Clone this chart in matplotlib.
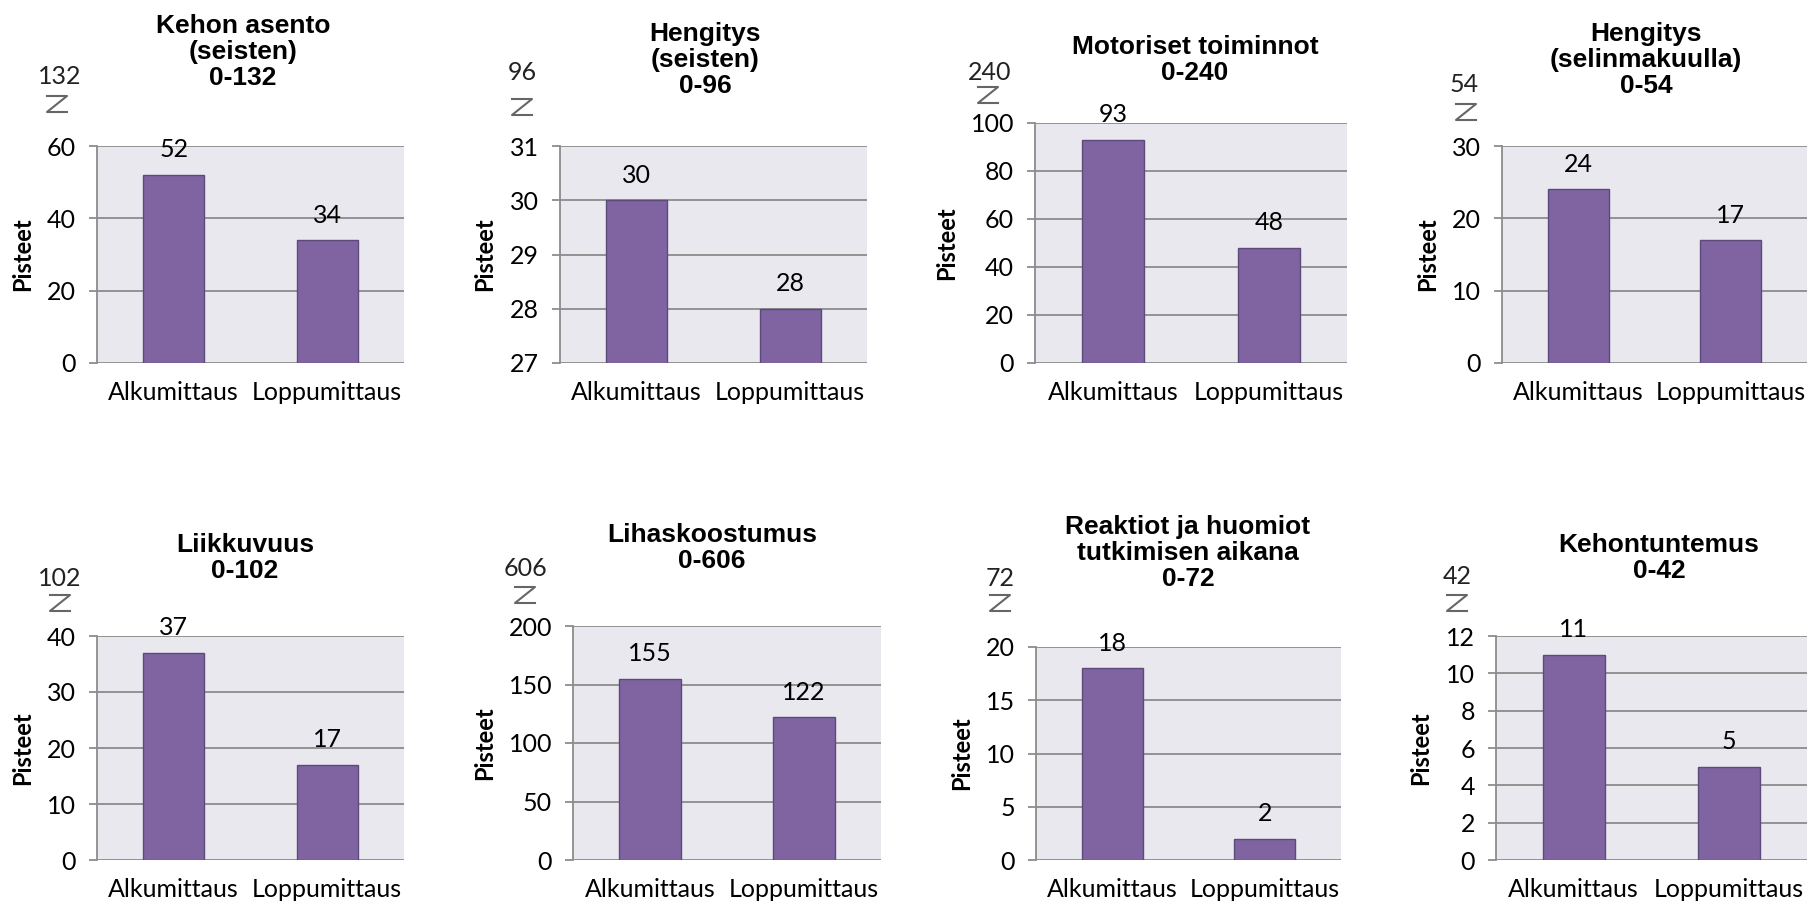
import matplotlib
matplotlib.use("Agg")
import matplotlib.pyplot as plt
from matplotlib.lines import Line2D
import numpy as np

# ---- data ----
categories = ["Alkumittaus", "Loppumittaus"]
titles = [
    "Kehon asento\n(seisten)\n0-132",
    "Hengitys\n(seisten)\n0-96",
    "Motoriset toiminnot\n0-240",
    "Hengitys\n(selinmakuulla)\n0-54",
    "Liikkuvuus\n0-102",
    "Lihaskoostumus\n0-606",
    "Reaktiot ja huomiot\ntutkimisen aikana\n0-72",
    "Kehontuntemus\n0-42",
]
max_scores = ["132", "96", "240", "54", "102", "606", "72", "42"]
alku = [52, 30, 93, 24, 37, 155, 18, 11]
loppu = [34, 28, 48, 17, 17, 122, 2, 5]
y_min = [0, 27, 0, 0, 0, 0, 0, 0]
y_max = [60, 31, 100, 30, 40, 200, 20, 12]
y_step = [20, 1, 20, 10, 10, 50, 5, 2]
ylabel = "Pisteet"

# ---- layout (pixels in 1819x910 canvas) ----
W, H = 1819, 910
axes_px = [  # left, right, top, bottom
    (97, 404, 146, 363),
    (560, 867, 146, 363),
    (1035, 1347, 123, 363),
    (1502, 1807, 146, 363),
    (97, 404, 636, 860),
    (573, 881, 626, 860),
    (1036, 1341, 647, 860),
    (1496, 1807, 636, 860),
]
title_px = [(243, 52), (705, 60), (1195, 60), (1646, 60),
            (245, 558), (712, 548), (1188, 553), (1659, 558)]
ylabel_x = [23, 485, 947, 1428, 23, 485, 962, 1421]
maxnum_px = [(60, 77), (522, 73), (990, 72), (1464, 85),
             (60, 578), (525, 568), (1000, 578), (1457, 577)]
zsym_px = [(57, 104), (522, 107), (988, 95), (1466, 112),
           (60, 603), (525, 595), (1000, 603), (1457, 603)]

bar_color = "#8064A2"
bar_edge = "#5C4A7A"
bg_color = "#EAE8EF"
grid_color = "#8C8C8C"

tick_font = "Lato"
title_font = "Liberation Sans"
FS = 18

fig = plt.figure(figsize=(W / 100, H / 100), dpi=100)
fig.patch.set_facecolor("white")

x = np.arange(len(categories))
for i in range(8):
    l, r, t, b = axes_px[i]
    ax = fig.add_axes([l / W, 1 - b / H, (r - l) / W, (b - t) / H])
    ax.set_facecolor(bg_color)
    vals = [alku[i], loppu[i]]
    ax.bar(x, vals, width=0.4, color=bar_color, edgecolor=bar_edge,
           linewidth=1.0, zorder=3)
    ax.set_xlim(-0.5, 1.5)
    ax.set_ylim(y_min[i], y_max[i])
    ax.set_yticks(np.arange(y_min[i], y_max[i] + y_step[i] * 0.5, y_step[i]))
    ax.yaxis.grid(True, color=grid_color, linewidth=1.3, zorder=1)
    ax.set_axisbelow(True)
    for s in ["top", "right", "bottom"]:
        ax.spines[s].set_visible(False)
    ax.spines["left"].set_color(grid_color)
    ax.spines["left"].set_linewidth(1.3)
    ax.tick_params(axis="y", length=6, width=1.3, color=grid_color, pad=9,
                   labelsize=FS)
    ax.tick_params(axis="x", length=0, pad=13, labelsize=FS)
    ax.set_xticks(x)
    ax.set_xticklabels(categories)
    for lab in ax.get_xticklabels() + ax.get_yticklabels():
        lab.set_fontfamily(tick_font)
    for xi, v in zip(x, vals):
        ax.annotate(str(v), (xi, v), xytext=(0, 18), textcoords="offset points",
                    ha="center", va="center", fontsize=FS, family=tick_font,
                    annotation_clip=False)
    fig.text(ylabel_x[i] / W, 1 - ((t + b) / 2) / H, ylabel, rotation=90,
             ha="center", va="center", fontsize=17, fontweight="bold",
             family=tick_font)
    tx, ty = title_px[i]
    fig.text(tx / W, 1 - ty / H, titles[i], ha="center", va="center",
             fontsize=19, fontweight="bold", family=title_font,
             linespacing=1.12)
    mx, my = maxnum_px[i]
    fig.text(mx / W, 1 - my / H, max_scores[i], ha="center", va="center",
             fontsize=FS, family=tick_font, color="#222222")
    zx, zy = zsym_px[i]
    hw, hh = 10, 8
    xs = [zx - hw, zx + hw, zx - hw, zx + hw]
    ys = [zy - hh, zy - hh, zy + hh, zy + hh]
    fig.add_artist(Line2D([v / W for v in xs], [1 - v / H for v in ys],
                          transform=fig.transFigure, color="#666666",
                          linewidth=1.5))

fig.savefig("out.png", dpi=100)
